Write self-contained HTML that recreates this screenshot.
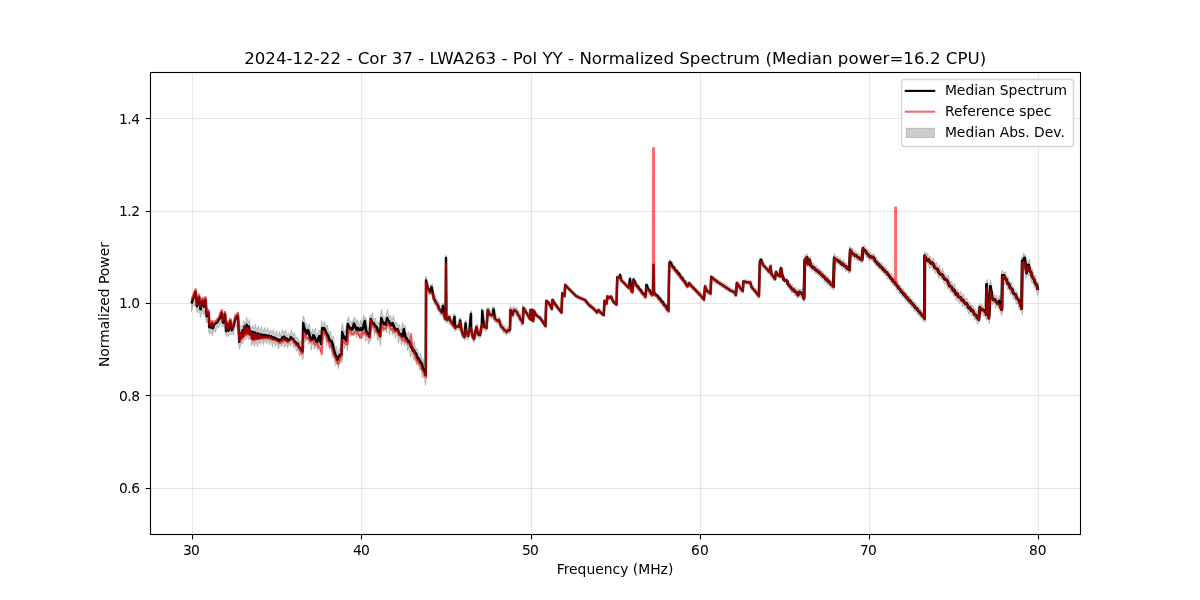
<!DOCTYPE html>
<html><head><meta charset="utf-8"><title>Normalized Spectrum</title>
<style>
html,body{margin:0;padding:0;background:#fff;}
body{width:1200px;height:600px;overflow:hidden;}
svg{display:block;font-family:"DejaVu Sans","Liberation Sans",sans-serif;}
</style></head><body>
<svg width="1200" height="600" viewBox="0 0 1200 600">
<rect width="1200" height="600" fill="#fff"/>
<g stroke="#b0b0b0" stroke-opacity="0.3" stroke-width="1.1"><line x1="192.50" y1="72.5" x2="192.50" y2="534.5"/><line x1="361.50" y1="72.5" x2="361.50" y2="534.5"/><line x1="531.50" y1="72.5" x2="531.50" y2="534.5"/><line x1="700.50" y1="72.5" x2="700.50" y2="534.5"/><line x1="869.50" y1="72.5" x2="869.50" y2="534.5"/><line x1="1038.50" y1="72.5" x2="1038.50" y2="534.5"/><line x1="150.5" y1="488.50" x2="1080.5" y2="488.50"/><line x1="150.5" y1="395.50" x2="1080.5" y2="395.50"/><line x1="150.5" y1="303.50" x2="1080.5" y2="303.50"/><line x1="150.5" y1="211.50" x2="1080.5" y2="211.50"/><line x1="150.5" y1="118.50" x2="1080.5" y2="118.50"/></g>
<path d="M191.5 298.4 L192.5 294.4 L193.5 292.6 L194.5 289.8 L195.5 288.3 L196.5 289.3 L197.5 297.8 L198.5 293.0 L199.5 294.9 L200.5 298.4 L201.5 297.5 L202.5 298.0 L203.5 298.2 L204.5 296.1 L205.5 297.4 L206.5 297.4 L207.5 309.2 L208.5 310.1 L209.5 310.3 L210.5 321.2 L211.5 321.1 L212.5 320.9 L213.5 321.0 L214.5 321.0 L215.5 320.4 L216.5 318.1 L217.5 317.9 L218.5 316.7 L219.5 312.2 L220.5 311.1 L221.5 310.6 L222.5 308.7 L223.5 314.4 L224.5 311.9 L225.5 310.8 L226.5 318.8 L227.5 321.4 L228.5 320.8 L229.5 318.7 L230.5 319.1 L231.5 319.0 L232.5 324.3 L233.5 320.0 L234.5 314.4 L235.5 315.0 L236.5 313.7 L237.5 311.5 L238.5 312.9 L239.5 323.8 L240.5 326.5 L241.5 326.0 L242.5 326.6 L243.5 320.3 L244.5 323.1 L245.5 322.7 L246.5 317.2 L247.5 320.7 L248.5 322.5 L249.5 319.4 L250.5 327.4 L251.5 327.9 L252.5 325.4 L253.5 327.7 L254.5 328.4 L255.5 324.2 L256.5 330.2 L257.5 329.2 L258.5 326.0 L259.5 330.3 L260.5 330.1 L261.5 326.3 L262.5 331.2 L263.5 331.3 L264.5 327.3 L265.5 330.8 L266.5 331.4 L267.5 327.5 L268.5 331.7 L269.5 331.9 L270.5 329.9 L271.5 332.0 L272.5 332.7 L273.5 329.0 L274.5 333.6 L275.5 334.4 L276.5 330.7 L277.5 335.0 L278.5 335.7 L279.5 331.6 L280.5 335.9 L281.5 333.6 L282.5 329.6 L283.5 332.9 L284.5 333.0 L285.5 330.0 L286.5 334.2 L287.5 335.1 L288.5 333.3 L289.5 334.0 L290.5 333.2 L291.5 330.1 L292.5 333.7 L293.5 335.2 L294.5 332.3 L295.5 337.4 L296.5 337.9 L297.5 337.1 L298.5 339.2 L299.5 342.2 L300.5 340.9 L301.5 345.7 L302.5 318.9 L303.5 315.7 L304.5 319.7 L305.5 324.1 L306.5 323.1 L307.5 326.4 L308.5 325.8 L309.5 324.2 L310.5 331.0 L311.5 334.0 L312.5 328.7 L313.5 330.9 L314.5 330.9 L315.5 328.2 L316.5 335.6 L317.5 334.0 L318.5 329.4 L319.5 331.4 L320.5 332.1 L321.5 320.6 L322.5 323.4 L323.5 324.5 L324.5 321.5 L325.5 324.2 L326.5 326.9 L327.5 324.8 L328.5 330.9 L329.5 333.6 L330.5 331.0 L331.5 336.6 L332.5 337.5 L333.5 335.9 L334.5 343.8 L335.5 348.7 L336.5 346.5 L337.5 353.3 L338.5 352.1 L339.5 348.3 L340.5 349.5 L341.5 327.9 L342.5 323.5 L343.5 328.8 L344.5 332.5 L345.5 330.8 L346.5 323.3 L347.5 320.6 L348.5 316.6 L349.5 322.1 L350.5 323.3 L351.5 321.5 L352.5 321.3 L353.5 319.4 L354.5 316.9 L355.5 319.9 L356.5 323.1 L357.5 319.4 L358.5 323.5 L359.5 325.2 L360.5 320.1 L361.5 323.9 L362.5 321.9 L363.5 314.7 L364.5 317.3 L365.5 316.9 L366.5 319.6 L367.5 326.9 L368.5 329.5 L369.5 316.7 L370.5 315.1 L371.5 315.5 L372.5 312.6 L373.5 317.7 L374.5 319.4 L375.5 318.0 L376.5 321.8 L377.5 322.9 L378.5 322.2 L379.5 324.2 L380.5 314.1 L381.5 309.6 L382.5 314.3 L383.5 317.3 L384.5 316.5 L385.5 317.4 L386.5 314.1 L387.5 309.6 L388.5 315.0 L389.5 317.0 L390.5 315.3 L391.5 319.1 L392.5 319.3 L393.5 315.0 L394.5 320.4 L395.5 323.8 L396.5 322.3 L397.5 324.5 L398.5 325.4 L399.5 324.4 L400.5 329.5 L401.5 330.5 L402.5 322.5 L403.5 325.4 L404.5 325.3 L405.5 325.9 L406.5 332.7 L407.5 334.8 L408.5 331.5 L409.5 336.6 L410.5 337.9 L411.5 337.3 L412.5 343.0 L413.5 345.0 L414.5 341.8 L415.5 347.7 L416.5 349.1 L417.5 348.7 L418.5 353.8 L419.5 354.8 L420.5 352.9 L421.5 357.7 L422.5 359.1 L423.5 359.6 L424.5 364.9 L425.5 276.8 L426.5 276.5 L427.5 280.6 L428.5 284.4 L429.5 285.5 L430.5 284.9 L431.5 284.6 L432.5 283.5 L433.5 289.7 L434.5 294.5 L435.5 296.2 L436.5 299.2 L437.5 301.0 L438.5 301.4 L439.5 304.7 L440.5 307.0 L441.5 305.8 L442.5 303.6 L443.5 303.7 L444.5 305.6 L445.5 255.5 L446.5 255.8 L447.5 314.8 L448.5 314.4 L449.5 314.6 L450.5 315.3 L451.5 318.5 L452.5 320.2 L453.5 313.7 L454.5 314.4 L455.5 314.8 L456.5 322.5 L457.5 323.7 L458.5 322.4 L459.5 317.2 L460.5 318.1 L461.5 321.0 L462.5 326.6 L463.5 331.0 L464.5 322.3 L465.5 319.9 L466.5 321.0 L467.5 329.5 L468.5 326.4 L469.5 317.0 L470.5 311.6 L471.5 310.6 L472.5 328.1 L473.5 333.5 L474.5 328.3 L475.5 324.9 L476.5 324.6 L477.5 323.4 L478.5 329.3 L479.5 329.8 L480.5 323.3 L481.5 308.4 L482.5 308.8 L483.5 310.2 L484.5 320.3 L485.5 324.7 L486.5 310.4 L487.5 307.7 L488.5 307.6 L489.5 308.3 L490.5 311.7 L491.5 312.2 L492.5 306.2 L493.5 307.1 L494.5 307.1 L495.5 312.5 L496.5 316.8 L497.5 317.6 L498.5 316.4 L499.5 317.6 L500.5 319.5 L501.5 321.1 L502.5 324.3 L503.5 325.2 L504.5 325.6 L505.5 328.0 L506.5 328.4 L507.5 326.6 L508.5 327.7 L509.5 307.9 L510.5 306.6 L511.5 307.4 L512.5 309.3 L513.5 306.2 L514.5 307.7 L515.5 307.9 L516.5 307.1 L517.5 309.4 L518.5 311.4 L519.5 311.4 L520.5 314.5 L521.5 316.8 L522.5 304.9 L523.5 306.6 L524.5 306.7 L525.5 308.0 L526.5 309.9 L527.5 311.6 L528.5 313.0 L529.5 308.9 L530.5 308.6 L531.5 308.4 L532.5 308.6 L533.5 308.7 L534.5 309.4 L535.5 310.6 L536.5 312.7 L537.5 313.7 L538.5 314.8 L539.5 315.6 L540.5 316.0 L541.5 317.3 L542.5 318.7 L543.5 319.9 L544.5 321.6 L545.5 299.7 L546.5 299.4 L547.5 300.0 L548.5 300.5 L549.5 301.3 L550.5 303.2 L551.5 298.9 L552.5 298.3 L553.5 298.6 L554.5 300.4 L555.5 301.6 L556.5 303.4 L557.5 304.7 L558.5 305.9 L559.5 307.4 L560.5 308.7 L561.5 291.8 L562.5 292.1 L563.5 292.7 L564.5 283.3 L565.5 283.6 L566.5 284.2 L567.5 284.9 L568.5 286.2 L569.5 287.1 L570.5 287.8 L571.5 289.2 L572.5 290.2 L573.5 290.8 L574.5 292.1 L575.5 293.1 L576.5 293.8 L577.5 294.9 L578.5 295.4 L579.5 295.5 L580.5 296.3 L581.5 296.8 L582.5 297.0 L583.5 297.6 L584.5 298.1 L585.5 298.2 L586.5 299.4 L587.5 300.7 L588.5 301.5 L589.5 303.1 L590.5 304.1 L591.5 304.5 L592.5 305.7 L593.5 306.4 L594.5 306.9 L595.5 308.4 L596.5 309.4 L597.5 308.6 L598.5 308.7 L599.5 308.7 L600.5 309.5 L601.5 311.2 L602.5 312.1 L603.5 299.6 L604.5 299.6 L605.5 299.7 L606.5 295.0 L607.5 295.2 L608.5 295.2 L609.5 295.6 L610.5 295.1 L611.5 295.1 L612.5 296.0 L613.5 298.7 L614.5 300.7 L615.5 301.2 L616.5 276.1 L617.5 275.9 L618.5 275.3 L619.5 273.6 L620.5 273.6 L621.5 275.4 L622.5 279.1 L623.5 280.1 L624.5 280.8 L625.5 282.2 L626.5 283.2 L627.5 283.8 L628.5 282.2 L629.5 277.6 L630.5 277.3 L631.5 281.7 L632.5 278.4 L633.5 277.9 L634.5 278.2 L635.5 280.1 L636.5 281.8 L637.5 284.0 L638.5 285.0 L639.5 286.0 L640.5 287.8 L641.5 288.7 L642.5 290.1 L643.5 291.7 L644.5 292.4 L645.5 283.6 L646.5 283.7 L647.5 283.7 L648.5 285.7 L649.5 288.0 L650.5 289.1 L651.5 290.5 L652.5 263.9 L653.5 263.7 L654.5 263.4 L655.5 292.0 L656.5 293.1 L657.5 293.8 L658.5 294.6 L659.5 296.3 L660.5 296.3 L661.5 297.9 L662.5 299.6 L663.5 300.0 L664.5 301.8 L665.5 303.5 L666.5 303.6 L667.5 305.9 L668.5 261.9 L669.5 259.7 L670.5 260.3 L671.5 261.1 L672.5 261.9 L673.5 264.8 L674.5 265.7 L675.5 266.5 L676.5 268.4 L677.5 269.2 L678.5 270.5 L679.5 271.9 L680.5 272.8 L681.5 274.2 L682.5 275.8 L683.5 277.2 L684.5 277.9 L685.5 279.9 L686.5 281.4 L687.5 282.3 L688.5 281.4 L689.5 281.5 L690.5 281.8 L691.5 283.2 L692.5 284.3 L693.5 284.9 L694.5 286.4 L695.5 287.5 L696.5 288.0 L697.5 289.5 L698.5 290.5 L699.5 290.9 L700.5 292.5 L701.5 294.0 L702.5 294.2 L703.5 291.6 L704.5 284.8 L705.5 284.3 L706.5 286.0 L707.5 288.4 L708.5 289.0 L709.5 290.4 L710.5 275.3 L711.5 274.9 L712.5 275.7 L713.5 276.5 L714.5 276.7 L715.5 277.9 L716.5 278.7 L717.5 278.8 L718.5 280.3 L719.5 281.0 L720.5 281.1 L721.5 282.2 L722.5 282.9 L723.5 283.0 L724.5 284.1 L725.5 284.9 L726.5 284.7 L727.5 286.1 L728.5 286.8 L729.5 286.8 L730.5 288.1 L731.5 288.9 L732.5 288.7 L733.5 289.6 L734.5 290.0 L735.5 285.4 L736.5 281.4 L737.5 281.4 L738.5 281.8 L739.5 283.9 L740.5 285.1 L741.5 285.9 L742.5 280.0 L743.5 279.9 L744.5 279.3 L745.5 280.1 L746.5 280.3 L747.5 279.7 L748.5 280.6 L749.5 280.7 L750.5 280.2 L751.5 281.2 L752.5 285.3 L753.5 286.0 L754.5 287.9 L755.5 288.8 L756.5 289.4 L757.5 291.2 L758.5 272.8 L759.5 258.5 L760.5 258.1 L761.5 258.1 L762.5 258.7 L763.5 261.9 L764.5 263.8 L765.5 264.1 L766.5 265.8 L767.5 266.9 L768.5 267.7 L769.5 265.0 L770.5 264.8 L771.5 264.0 L772.5 272.3 L773.5 273.8 L774.5 273.3 L775.5 270.2 L776.5 270.3 L777.5 270.4 L778.5 272.5 L779.5 270.8 L780.5 266.3 L781.5 266.8 L782.5 270.1 L783.5 273.9 L784.5 277.1 L785.5 278.4 L786.5 278.3 L787.5 279.1 L788.5 280.8 L789.5 282.4 L790.5 283.5 L791.5 284.8 L792.5 284.4 L793.5 287.2 L794.5 287.4 L795.5 286.9 L796.5 289.5 L797.5 290.0 L798.5 288.6 L799.5 289.6 L800.5 289.6 L801.5 288.8 L802.5 290.3 L803.5 272.0 L804.5 255.4 L805.5 255.6 L806.5 255.0 L807.5 253.6 L808.5 257.9 L809.5 257.4 L810.5 256.3 L811.5 261.5 L812.5 263.7 L813.5 263.0 L814.5 265.3 L815.5 266.2 L816.5 265.4 L817.5 267.6 L818.5 268.4 L819.5 267.9 L820.5 270.0 L821.5 271.2 L822.5 270.9 L823.5 272.8 L824.5 274.2 L825.5 273.9 L826.5 276.3 L827.5 276.9 L828.5 276.5 L829.5 279.1 L830.5 279.9 L831.5 280.1 L832.5 282.4 L833.5 255.7 L834.5 253.8 L835.5 256.2 L836.5 256.9 L837.5 255.7 L838.5 257.4 L839.5 258.5 L840.5 258.4 L841.5 259.9 L842.5 261.4 L843.5 259.8 L844.5 262.1 L845.5 263.2 L846.5 262.4 L847.5 265.1 L848.5 266.1 L849.5 246.5 L850.5 247.4 L851.5 247.9 L852.5 248.1 L853.5 251.0 L854.5 251.7 L855.5 250.9 L856.5 252.8 L857.5 253.6 L858.5 252.9 L859.5 254.7 L860.5 255.8 L861.5 250.4 L862.5 245.7 L863.5 246.0 L864.5 245.2 L865.5 247.5 L866.5 248.9 L867.5 249.1 L868.5 251.5 L869.5 252.9 L870.5 252.2 L871.5 254.0 L872.5 254.5 L873.5 253.4 L874.5 255.3 L875.5 257.0 L876.5 257.5 L877.5 259.7 L878.5 261.2 L879.5 260.9 L880.5 262.6 L881.5 264.0 L882.5 263.1 L883.5 265.8 L884.5 267.2 L885.5 266.9 L886.5 269.1 L887.5 269.9 L888.5 270.5 L889.5 272.5 L890.5 273.9 L891.5 273.5 L892.5 276.1 L893.5 277.7 L894.5 277.6 L895.5 280.0 L896.5 281.5 L897.5 281.0 L898.5 283.5 L899.5 285.2 L900.5 285.3 L901.5 287.9 L902.5 289.3 L903.5 288.5 L904.5 291.5 L905.5 292.5 L906.5 292.4 L907.5 294.7 L908.5 295.9 L909.5 295.9 L910.5 298.3 L911.5 299.3 L912.5 299.2 L913.5 301.3 L914.5 302.8 L915.5 302.6 L916.5 305.3 L917.5 306.0 L918.5 305.8 L919.5 308.3 L920.5 309.6 L921.5 309.4 L922.5 311.9 L923.5 313.2 L924.5 251.7 L925.5 252.3 L926.5 254.8 L927.5 252.9 L928.5 256.1 L929.5 256.8 L930.5 256.6 L931.5 259.5 L932.5 259.3 L933.5 257.6 L934.5 261.3 L935.5 264.4 L936.5 262.0 L937.5 265.6 L938.5 266.5 L939.5 265.1 L940.5 270.2 L941.5 271.2 L942.5 268.3 L943.5 271.5 L944.5 274.0 L945.5 273.9 L946.5 276.0 L947.5 277.0 L948.5 275.1 L949.5 280.2 L950.5 283.0 L951.5 281.0 L952.5 283.8 L953.5 286.1 L954.5 283.6 L955.5 288.0 L956.5 289.8 L957.5 288.8 L958.5 291.6 L959.5 293.6 L960.5 291.0 L961.5 293.9 L962.5 297.0 L963.5 293.4 L964.5 297.9 L965.5 299.5 L966.5 297.2 L967.5 299.9 L968.5 302.2 L969.5 302.2 L970.5 304.1 L971.5 305.8 L972.5 304.9 L973.5 307.5 L974.5 308.9 L975.5 308.4 L976.5 311.9 L977.5 313.1 L978.5 305.4 L979.5 303.9 L980.5 304.5 L981.5 303.4 L982.5 306.7 L983.5 306.9 L984.5 305.0 L985.5 289.4 L986.5 281.2 L987.5 279.2 L988.5 300.4 L989.5 283.7 L990.5 280.2 L991.5 284.2 L992.5 290.9 L993.5 292.6 L994.5 296.0 L995.5 296.1 L996.5 295.1 L997.5 298.9 L998.5 298.2 L999.5 295.5 L1000.5 299.4 L1001.5 272.5 L1002.5 270.0 L1003.5 272.5 L1004.5 272.6 L1005.5 271.5 L1006.5 275.0 L1007.5 277.0 L1008.5 277.4 L1009.5 281.1 L1010.5 283.0 L1011.5 282.0 L1012.5 285.7 L1013.5 287.7 L1014.5 288.6 L1015.5 290.9 L1016.5 291.4 L1017.5 292.3 L1018.5 295.5 L1019.5 297.3 L1020.5 296.3 L1021.5 257.3 L1022.5 256.9 L1023.5 252.7 L1024.5 254.9 L1025.5 255.0 L1026.5 258.5 L1027.5 262.3 L1028.5 262.1 L1029.5 259.1 L1030.5 265.7 L1031.5 268.6 L1032.5 268.8 L1033.5 274.1 L1034.5 275.6 L1035.5 275.4 L1036.5 280.5 L1037.5 281.8 L1038.5 282.8 L1038.5 293.1 L1037.5 295.4 L1036.5 290.6 L1035.5 288.1 L1034.5 288.1 L1033.5 283.9 L1032.5 281.9 L1031.5 283.1 L1030.5 277.1 L1029.5 274.3 L1028.5 275.6 L1027.5 275.9 L1026.5 276.4 L1025.5 279.1 L1024.5 267.5 L1023.5 263.4 L1022.5 314.7 L1021.5 311.6 L1020.5 310.8 L1019.5 309.7 L1018.5 304.9 L1017.5 302.8 L1016.5 304.6 L1015.5 300.4 L1014.5 298.1 L1013.5 300.0 L1012.5 296.3 L1011.5 293.9 L1010.5 293.9 L1009.5 290.9 L1008.5 288.9 L1007.5 289.3 L1006.5 285.8 L1005.5 283.2 L1004.5 284.9 L1003.5 279.7 L1002.5 312.5 L1001.5 315.8 L1000.5 312.4 L999.5 309.8 L998.5 308.7 L997.5 306.7 L996.5 306.3 L995.5 308.3 L994.5 303.3 L993.5 302.8 L992.5 304.8 L991.5 301.5 L990.5 308.4 L989.5 323.8 L988.5 321.1 L987.5 317.6 L986.5 320.3 L985.5 317.5 L984.5 315.9 L983.5 316.3 L982.5 313.3 L981.5 313.1 L980.5 316.5 L979.5 322.4 L978.5 322.6 L977.5 324.3 L976.5 320.9 L975.5 319.2 L974.5 320.4 L973.5 317.0 L972.5 315.6 L971.5 316.0 L970.5 313.8 L969.5 312.1 L968.5 314.1 L967.5 310.6 L966.5 308.4 L965.5 308.9 L964.5 306.9 L963.5 305.0 L962.5 307.0 L961.5 303.1 L960.5 302.4 L959.5 303.4 L958.5 300.0 L957.5 300.6 L956.5 300.4 L955.5 297.7 L954.5 295.7 L953.5 296.0 L952.5 293.6 L951.5 291.9 L950.5 292.8 L949.5 289.5 L948.5 288.9 L947.5 288.5 L946.5 284.1 L945.5 283.2 L944.5 284.6 L943.5 281.9 L942.5 279.8 L941.5 280.0 L940.5 277.8 L939.5 277.1 L938.5 278.6 L937.5 274.3 L936.5 272.3 L935.5 273.6 L934.5 270.9 L933.5 269.9 L932.5 269.6 L931.5 266.7 L930.5 267.0 L929.5 268.7 L928.5 264.3 L927.5 263.6 L926.5 265.9 L925.5 321.8 L924.5 320.9 L923.5 322.1 L922.5 319.1 L921.5 318.0 L920.5 318.2 L919.5 315.8 L918.5 314.4 L917.5 314.5 L916.5 312.1 L915.5 310.5 L914.5 311.8 L913.5 308.4 L912.5 307.8 L911.5 307.7 L910.5 305.3 L909.5 303.9 L908.5 304.0 L907.5 302.0 L906.5 300.8 L905.5 301.2 L904.5 298.2 L903.5 297.3 L902.5 297.6 L901.5 294.9 L900.5 294.1 L899.5 293.9 L898.5 291.1 L897.5 290.2 L896.5 290.0 L895.5 287.3 L894.5 286.4 L893.5 286.1 L892.5 283.8 L891.5 282.3 L890.5 282.2 L889.5 280.1 L888.5 278.6 L887.5 279.0 L886.5 276.3 L885.5 274.8 L884.5 275.5 L883.5 273.0 L882.5 272.0 L881.5 272.2 L880.5 269.6 L879.5 269.1 L878.5 269.1 L877.5 266.8 L876.5 265.9 L875.5 265.8 L874.5 263.5 L873.5 261.6 L872.5 261.3 L871.5 259.9 L870.5 259.6 L869.5 261.0 L868.5 258.6 L867.5 257.3 L866.5 258.0 L865.5 255.0 L864.5 253.3 L863.5 257.9 L862.5 262.4 L861.5 262.7 L860.5 262.9 L859.5 261.2 L858.5 260.4 L857.5 261.3 L856.5 259.1 L855.5 258.2 L854.5 259.8 L853.5 257.0 L852.5 256.9 L851.5 256.8 L850.5 272.5 L849.5 272.8 L848.5 273.5 L847.5 270.9 L846.5 270.9 L845.5 271.2 L844.5 268.6 L843.5 268.4 L842.5 268.7 L841.5 266.6 L840.5 265.9 L839.5 265.9 L838.5 264.4 L837.5 263.1 L836.5 263.7 L835.5 262.1 L834.5 289.1 L833.5 290.2 L832.5 288.7 L831.5 287.7 L830.5 288.6 L829.5 285.9 L828.5 284.7 L827.5 285.1 L826.5 282.9 L825.5 282.2 L824.5 282.6 L823.5 279.6 L822.5 278.8 L821.5 278.7 L820.5 277.0 L819.5 276.0 L818.5 276.1 L817.5 274.4 L816.5 273.3 L815.5 274.1 L814.5 271.8 L813.5 270.6 L812.5 271.5 L811.5 269.6 L810.5 268.8 L809.5 267.7 L808.5 266.4 L807.5 266.5 L806.5 263.9 L805.5 276.6 L804.5 301.2 L803.5 302.0 L802.5 299.6 L801.5 297.3 L800.5 297.2 L799.5 296.5 L798.5 297.6 L797.5 298.9 L796.5 296.3 L795.5 295.0 L794.5 295.8 L793.5 293.0 L792.5 292.8 L791.5 293.2 L790.5 290.7 L789.5 288.7 L788.5 287.9 L787.5 286.2 L786.5 283.9 L785.5 283.2 L784.5 282.1 L783.5 281.8 L782.5 280.8 L781.5 277.7 L780.5 277.8 L779.5 278.2 L778.5 277.3 L777.5 276.8 L776.5 277.7 L775.5 280.7 L774.5 280.8 L773.5 280.4 L772.5 278.5 L771.5 277.0 L770.5 276.0 L769.5 273.6 L768.5 273.5 L767.5 273.2 L766.5 271.2 L765.5 269.9 L764.5 269.6 L763.5 267.9 L762.5 267.1 L761.5 265.9 L760.5 275.9 L759.5 297.7 L758.5 298.4 L757.5 297.0 L756.5 295.7 L755.5 294.9 L754.5 293.1 L753.5 291.9 L752.5 291.7 L751.5 289.7 L750.5 288.5 L749.5 285.0 L748.5 284.2 L747.5 284.1 L746.5 284.7 L745.5 283.7 L744.5 283.7 L743.5 293.4 L742.5 292.7 L741.5 292.2 L740.5 291.9 L739.5 289.6 L738.5 288.1 L737.5 289.8 L736.5 296.7 L735.5 296.7 L734.5 296.4 L733.5 294.0 L732.5 293.2 L731.5 293.6 L730.5 292.5 L729.5 291.9 L728.5 292.1 L727.5 290.6 L726.5 290.0 L725.5 289.8 L724.5 288.6 L723.5 288.0 L722.5 287.8 L721.5 286.7 L720.5 286.0 L719.5 286.1 L718.5 284.8 L717.5 284.2 L716.5 284.0 L715.5 282.6 L714.5 281.9 L713.5 281.8 L712.5 280.4 L711.5 295.2 L710.5 295.7 L709.5 295.1 L708.5 294.3 L707.5 294.4 L706.5 292.8 L705.5 294.8 L704.5 301.7 L703.5 301.2 L702.5 300.4 L701.5 299.8 L700.5 298.0 L699.5 297.1 L698.5 296.2 L697.5 294.7 L696.5 293.8 L695.5 293.3 L694.5 291.6 L693.5 290.5 L692.5 290.2 L691.5 288.4 L690.5 287.5 L689.5 287.2 L688.5 287.8 L687.5 287.8 L686.5 288.3 L685.5 286.6 L684.5 284.4 L683.5 283.4 L682.5 281.8 L681.5 280.4 L680.5 279.9 L679.5 278.0 L678.5 275.9 L677.5 276.2 L676.5 274.1 L675.5 272.4 L674.5 272.3 L673.5 270.0 L672.5 269.0 L671.5 268.5 L670.5 265.8 L669.5 312.2 L668.5 312.8 L667.5 311.9 L666.5 311.2 L665.5 309.6 L664.5 307.4 L663.5 306.6 L662.5 305.7 L661.5 303.8 L660.5 302.8 L659.5 301.0 L658.5 300.1 L657.5 298.7 L656.5 297.3 L655.5 296.8 L654.5 295.6 L653.5 296.0 L652.5 295.8 L651.5 295.8 L650.5 295.3 L649.5 293.3 L648.5 291.6 L647.5 290.8 L646.5 297.9 L645.5 297.9 L644.5 298.0 L643.5 295.9 L642.5 295.0 L641.5 294.6 L640.5 292.8 L639.5 291.1 L638.5 290.6 L637.5 288.8 L636.5 287.7 L635.5 286.7 L634.5 284.6 L633.5 292.9 L632.5 293.1 L631.5 292.7 L630.5 292.2 L629.5 289.1 L628.5 288.8 L627.5 288.8 L626.5 288.2 L625.5 286.6 L624.5 285.6 L623.5 285.0 L622.5 283.6 L621.5 282.6 L620.5 282.0 L619.5 278.5 L618.5 278.8 L617.5 306.3 L616.5 305.9 L615.5 305.7 L614.5 305.1 L613.5 304.0 L612.5 303.1 L611.5 301.3 L610.5 299.3 L609.5 299.3 L608.5 299.4 L607.5 304.9 L606.5 304.9 L605.5 304.8 L604.5 316.3 L603.5 316.4 L602.5 316.3 L601.5 315.2 L600.5 314.5 L599.5 314.0 L598.5 312.8 L597.5 313.8 L596.5 314.3 L595.5 313.1 L594.5 311.8 L593.5 311.1 L592.5 309.7 L591.5 309.0 L590.5 308.5 L589.5 307.4 L588.5 306.6 L587.5 305.8 L586.5 304.4 L585.5 303.1 L584.5 302.2 L583.5 301.1 L582.5 300.7 L581.5 300.5 L580.5 299.8 L579.5 299.4 L578.5 299.2 L577.5 298.4 L576.5 298.0 L575.5 297.7 L574.5 296.6 L573.5 295.6 L572.5 294.8 L571.5 293.6 L570.5 292.6 L569.5 291.9 L568.5 290.6 L567.5 289.7 L566.5 288.9 L565.5 297.3 L564.5 297.3 L563.5 297.5 L562.5 313.8 L561.5 313.9 L560.5 314.0 L559.5 312.4 L558.5 311.1 L557.5 310.2 L556.5 308.6 L555.5 307.1 L554.5 306.2 L553.5 304.3 L552.5 310.3 L551.5 310.8 L550.5 309.3 L549.5 307.4 L548.5 306.0 L547.5 304.1 L546.5 327.4 L545.5 327.7 L544.5 327.1 L543.5 325.6 L542.5 324.5 L541.5 322.6 L540.5 321.1 L539.5 320.3 L538.5 318.7 L537.5 318.1 L536.5 317.5 L535.5 316.5 L534.5 318.6 L533.5 322.7 L532.5 322.4 L531.5 321.3 L530.5 321.5 L529.5 320.3 L528.5 319.3 L527.5 318.0 L526.5 315.8 L525.5 314.1 L524.5 312.6 L523.5 324.3 L522.5 325.4 L521.5 326.0 L520.5 322.6 L519.5 321.4 L518.5 320.1 L517.5 317.3 L516.5 315.8 L515.5 315.0 L514.5 313.8 L513.5 317.5 L512.5 318.3 L511.5 317.1 L510.5 332.8 L509.5 333.7 L508.5 332.9 L507.5 334.6 L506.5 335.5 L505.5 334.2 L504.5 333.3 L503.5 333.4 L502.5 331.0 L501.5 329.8 L500.5 330.0 L499.5 327.0 L498.5 323.8 L497.5 324.2 L496.5 323.1 L495.5 321.8 L494.5 322.4 L493.5 318.0 L492.5 317.6 L491.5 319.0 L490.5 317.3 L489.5 317.4 L488.5 317.8 L487.5 330.2 L486.5 330.5 L485.5 331.8 L484.5 329.5 L483.5 329.3 L482.5 330.4 L481.5 334.2 L480.5 337.5 L479.5 338.6 L478.5 337.2 L477.5 336.8 L476.5 334.8 L475.5 338.8 L474.5 341.5 L473.5 342.6 L472.5 340.0 L471.5 338.3 L470.5 334.2 L469.5 336.3 L468.5 338.4 L467.5 339.8 L466.5 336.7 L465.5 339.5 L464.5 340.5 L463.5 339.0 L462.5 338.0 L461.5 337.0 L460.5 332.1 L459.5 329.3 L458.5 330.5 L457.5 328.8 L456.5 329.9 L455.5 331.5 L454.5 330.4 L453.5 327.4 L452.5 328.2 L451.5 326.2 L450.5 324.9 L449.5 324.6 L448.5 322.3 L447.5 322.3 L446.5 323.3 L445.5 321.3 L444.5 321.1 L443.5 319.1 L442.5 315.4 L441.5 315.3 L440.5 315.4 L439.5 312.6 L438.5 311.6 L437.5 310.5 L436.5 306.9 L435.5 305.4 L434.5 304.8 L433.5 301.8 L432.5 299.0 L431.5 295.3 L430.5 294.4 L429.5 294.3 L428.5 294.6 L427.5 291.4 L426.5 377.2 L425.5 385.4 L424.5 378.0 L423.5 376.7 L422.5 378.2 L421.5 370.7 L420.5 367.9 L419.5 370.4 L418.5 364.8 L417.5 363.0 L416.5 365.3 L415.5 359.8 L414.5 357.6 L413.5 360.6 L412.5 355.1 L411.5 353.8 L410.5 357.1 L409.5 349.4 L408.5 346.9 L407.5 350.9 L406.5 344.1 L405.5 342.5 L404.5 346.2 L403.5 340.5 L402.5 341.2 L401.5 345.8 L400.5 339.3 L399.5 338.8 L398.5 343.5 L397.5 335.9 L396.5 334.6 L395.5 338.5 L394.5 333.5 L393.5 332.1 L392.5 335.3 L391.5 328.7 L390.5 329.4 L389.5 335.2 L388.5 327.3 L387.5 326.5 L386.5 332.9 L385.5 328.6 L384.5 328.5 L383.5 331.9 L382.5 327.3 L381.5 333.5 L380.5 346.1 L379.5 339.6 L378.5 338.3 L377.5 340.5 L376.5 333.7 L375.5 331.7 L374.5 336.0 L373.5 329.1 L372.5 328.7 L371.5 330.8 L370.5 341.1 L369.5 341.9 L368.5 344.4 L367.5 338.1 L366.5 338.8 L365.5 341.8 L364.5 330.9 L363.5 334.1 L362.5 338.3 L361.5 333.7 L360.5 334.8 L359.5 338.4 L358.5 333.9 L357.5 333.8 L356.5 337.8 L355.5 333.4 L354.5 332.3 L353.5 336.2 L352.5 333.6 L351.5 333.5 L350.5 337.2 L349.5 332.7 L348.5 332.4 L347.5 351.0 L346.5 345.1 L345.5 344.3 L344.5 348.7 L343.5 341.6 L342.5 359.4 L341.5 363.0 L340.5 359.8 L339.5 361.6 L338.5 368.7 L337.5 363.7 L336.5 363.1 L335.5 365.7 L334.5 359.8 L333.5 357.5 L332.5 357.4 L331.5 348.0 L330.5 345.2 L329.5 349.0 L328.5 343.7 L327.5 341.6 L326.5 345.5 L325.5 337.5 L324.5 335.2 L323.5 339.7 L322.5 341.7 L321.5 348.8 L320.5 352.2 L319.5 344.8 L318.5 346.5 L317.5 350.5 L316.5 345.8 L315.5 345.8 L314.5 349.3 L313.5 342.2 L312.5 343.8 L311.5 350.0 L310.5 344.0 L309.5 342.7 L308.5 344.4 L307.5 337.9 L306.5 337.5 L305.5 342.1 L304.5 335.3 L303.5 356.4 L302.5 359.8 L301.5 355.4 L300.5 354.0 L299.5 356.3 L298.5 351.4 L297.5 350.3 L296.5 351.4 L295.5 348.4 L294.5 345.8 L293.5 347.9 L292.5 342.9 L291.5 342.5 L290.5 346.3 L289.5 343.3 L288.5 345.2 L287.5 347.9 L286.5 344.3 L285.5 344.8 L284.5 347.6 L283.5 342.6 L282.5 344.3 L281.5 347.0 L280.5 344.7 L279.5 345.0 L278.5 349.4 L277.5 343.7 L276.5 343.8 L275.5 346.8 L274.5 342.9 L273.5 342.7 L272.5 347.1 L271.5 342.3 L270.5 341.6 L269.5 345.1 L268.5 340.9 L267.5 341.8 L266.5 343.9 L265.5 340.9 L264.5 340.7 L263.5 344.8 L262.5 341.3 L261.5 341.3 L260.5 344.6 L259.5 342.2 L258.5 342.5 L257.5 346.8 L256.5 342.8 L255.5 342.8 L254.5 346.5 L253.5 343.0 L252.5 343.3 L251.5 345.4 L250.5 338.1 L249.5 339.0 L248.5 339.6 L247.5 336.8 L246.5 337.7 L245.5 339.7 L244.5 339.0 L243.5 340.7 L242.5 344.2 L241.5 342.4 L240.5 345.1 L239.5 349.1 L238.5 345.6 L237.5 330.2 L236.5 326.1 L235.5 325.8 L234.5 329.7 L233.5 335.1 L232.5 333.6 L231.5 334.7 L230.5 334.8 L229.5 334.6 L228.5 335.0 L227.5 337.2 L226.5 334.8 L225.5 334.9 L224.5 328.7 L223.5 326.1 L222.5 326.3 L221.5 325.4 L220.5 322.5 L219.5 324.8 L218.5 328.1 L217.5 326.3 L216.5 327.9 L215.5 332.4 L214.5 330.3 L213.5 331.9 L212.5 336.0 L211.5 331.5 L210.5 332.0 L209.5 334.5 L208.5 331.1 L207.5 320.5 L206.5 323.0 L205.5 318.4 L204.5 310.6 L203.5 315.0 L202.5 308.9 L201.5 313.5 L200.5 317.5 L199.5 312.6 L198.5 307.5 L197.5 313.1 L196.5 310.3 L195.5 304.7 L194.5 306.1 L193.5 304.5 L192.5 308.1 L191.5 311.8Z" fill="#808080" fill-opacity="0.4" stroke="#808080" stroke-opacity="0.4" stroke-width="1"/>
<path d="M191.5 303.5 L195.6 291.7 L197.0 306.2 L199.1 297.2 L200.5 309.2 L202.6 300.5 L203.9 306.7 L205.5 299.6 L206.6 316.2 L208.5 312.5 L209.4 327.2 L210.6 324.7 L211.3 327.7 L212.0 323.2 L212.9 328.2 L214.3 324.4 L217.2 322.2 L219.5 318.7 L221.6 312.7 L223.0 322.6 L225.0 314.2 L226.2 331.2 L227.3 323.7 L228.6 330.8 L230.3 321.2 L231.8 330.2 L233.5 326.2 L235.6 318.2 L237.9 315.5 L239.4 341.9 L240.2 333.0 L241.3 338.3 L242.5 330.1 L243.4 336.4 L244.6 326.5 L245.6 333.3 L246.7 324.6 L247.8 332.9 L248.7 326.4 L250.0 334.3 L251.2 331.3 L252.1 338.7 L253.2 332.0 L254.1 338.9 L255.2 332.6 L256.5 338.7 L257.8 333.3 L259.0 338.1 L260.3 334.2 L261.2 337.7 L262.2 334.7 L263.3 337.4 L264.3 334.9 L265.3 337.3 L266.5 335.2 L267.8 337.4 L269.0 335.5 L270.4 338.0 L271.3 336.3 L272.6 338.7 L273.7 337.3 L274.7 339.3 L275.8 338.2 L276.8 339.9 L278.1 339.5 L279.3 341.2 L280.2 339.6 L281.5 340.5 L282.4 337.1 L283.3 339.1 L284.3 336.5 L285.6 340.1 L286.9 338.6 L287.8 341.2 L288.7 339.6 L289.8 339.9 L290.7 337.0 L292.0 338.7 L293.3 338.9 L294.3 341.6 L295.5 341.6 L296.6 344.6 L297.8 343.6 L298.9 347.2 L300.1 348.0 L301.1 349.9 L302.2 351.5 L302.6 351.0 L303.2 323.0 L304.1 326.9 L305.0 329.0 L306.5 333.0 L308.0 330.0 L309.0 332.6 L310.0 337.0 L311.0 338.9 L312.0 339.0 L313.5 335.0 L314.5 336.6 L315.5 339.0 L316.5 340.8 L317.5 341.0 L318.5 337.6 L319.5 336.0 L321.0 343.0 L322.2 328.0 L323.1 328.8 L324.1 328.1 L325.0 329.0 L326.0 332.1 L327.0 334.0 L328.0 335.3 L329.0 338.7 L330.0 340.0 L331.5 341.0 L332.5 343.8 L333.5 348.0 L334.8 352.9 L336.0 356.0 L337.5 359.0 L339.0 356.0 L340.2 354.6 L341.5 354.0 L342.2 332.0 L343.1 335.0 L344.0 337.0 L345.2 338.0 L346.5 340.0 L347.8 324.0 L348.9 326.5 L350.0 328.0 L351.0 328.0 L352.0 329.0 L352.9 327.2 L353.8 323.5 L354.9 324.9 L356.0 328.0 L357.0 328.7 L358.0 327.8 L359.0 329.3 L360.0 329.0 L361.0 328.1 L362.0 329.0 L363.0 328.0 L363.9 323.7 L364.8 321.0 L366.0 330.0 L367.2 332.7 L368.3 333.4 L369.5 336.0 L370.8 319.0 L371.9 321.5 L373.0 323.0 L374.0 323.4 L375.0 325.5 L376.0 326.0 L377.0 327.5 L378.0 331.3 L379.0 332.1 L380.0 335.0 L381.2 318.0 L382.4 321.0 L383.5 323.0 L384.8 323.0 L386.0 324.0 L387.2 318.0 L388.1 320.6 L389.1 321.2 L390.0 324.0 L391.2 324.4 L392.5 323.0 L393.5 324.9 L394.5 328.0 L395.8 329.4 L397.0 329.0 L398.0 329.9 L399.0 333.0 L400.0 334.0 L401.2 334.4 L402.5 336.0 L403.8 329.0 L404.9 334.2 L406.0 338.0 L407.0 338.4 L408.0 341.2 L409.0 340.9 L410.0 343.0 L411.0 346.0 L412.0 347.1 L413.0 350.0 L414.0 350.0 L415.0 352.7 L416.0 353.2 L417.0 356.5 L418.0 358.0 L419.0 358.7 L420.0 361.3 L421.0 362.0 L422.0 363.8 L423.0 368.3 L424.0 370.0 L424.9 371.9 L425.8 375.0 L426.0 280.5 L427.0 284.8 L428.0 288.5 L429.0 289.9 L430.0 292.0 L431.5 287.0 L432.8 293.5 L434.0 299.0 L435.0 300.4 L436.0 302.6 L437.0 304.0 L438.0 305.6 L439.0 308.5 L440.0 310.0 L441.0 311.1 L442.0 313.0 L443.0 306.0 L444.0 313.0 L445.0 318.0 L445.7 319.0 L446.0 258.0 L446.3 319.0 L447.5 320.0 L449.0 317.0 L450.0 319.8 L451.0 322.0 L452.0 323.1 L453.0 325.0 L454.5 317.0 L455.0 328.0 L456.0 327.3 L457.0 326.0 L458.0 326.2 L459.0 327.0 L460.0 322.0 L460.1 320.5 L461.5 330.0 L463.0 335.0 L464.5 337.0 L465.6 323.5 L466.0 330.0 L467.0 333.3 L468.0 336.0 L469.5 330.0 L471.0 314.0 L471.0 328.0 L472.5 336.0 L474.0 339.0 L475.2 332.6 L476.5 327.0 L478.0 334.0 L479.0 334.8 L480.0 335.0 L481.0 329.2 L482.0 324.0 L482.2 311.0 L483.1 319.4 L484.0 327.0 L485.2 327.0 L486.5 328.0 L487.8 310.0 L488.9 312.8 L490.0 315.0 L491.0 314.6 L492.0 315.3 L493.0 315.0 L493.5 309.5 L495.0 319.0 L496.2 319.6 L497.5 321.0 L499.0 320.0 L500.5 325.0 L501.5 326.7 L502.5 327.4 L503.5 329.0 L504.5 330.3 L505.5 330.8 L506.5 332.0 L508.0 330.0 L509.0 330.3 L510.0 330.0 L510.5 310.0 L511.5 312.2 L512.5 315.0 L514.0 310.0 L515.0 310.8 L516.0 311.0 L517.0 312.4 L518.0 314.8 L519.0 315.8 L520.0 318.0 L520.9 319.9 L521.9 320.8 L522.8 323.0 L523.5 308.0 L526.0 312.0 L530.0 319.0 L530.5 310.0 L531.5 320.0 L532.5 310.0 L533.2 321.0 L534.0 311.0 L536.0 315.0 L540.0 318.0 L543.0 322.0 L545.5 326.0 L546.2 301.0 L548.0 302.0 L551.0 307.0 L551.8 309.0 L552.5 300.0 L555.0 304.0 L558.0 308.0 L561.5 312.5 L562.2 293.5 L564.5 296.0 L565.2 285.0 L568.0 288.0 L572.0 292.0 L576.0 296.0 L580.0 298.0 L585.0 300.0 L589.0 305.0 L594.0 309.0 L597.0 312.5 L598.5 310.0 L601.0 313.0 L603.8 315.0 L604.5 301.0 L606.5 303.5 L607.5 296.5 L609.5 298.0 L611.0 296.5 L613.5 302.0 L616.5 304.5 L617.2 277.5 L619.5 277.0 L620.2 275.0 L621.0 280.0 L624.0 283.0 L627.0 286.0 L628.0 287.4 L629.0 287.5 L630.0 279.0 L631.5 291.0 L632.5 291.5 L633.5 279.5 L634.8 281.7 L636.0 284.5 L637.0 286.2 L638.0 286.5 L639.0 288.8 L640.0 289.5 L641.0 290.4 L642.0 292.8 L643.0 293.5 L644.2 294.2 L645.5 296.5 L646.5 285.0 L647.8 288.0 L649.0 290.0 L650.0 290.9 L651.0 293.4 L652.0 294.5 L653.1 294.3 L653.5 265.0 L653.9 293.0 L654.9 293.4 L656.0 295.3 L657.0 295.5 L658.0 296.4 L659.0 298.7 L660.0 298.5 L661.0 300.5 L662.0 302.1 L663.0 302.3 L664.0 304.7 L665.0 305.5 L666.2 306.5 L667.3 309.5 L668.5 310.5 L669.2 264.0 L670.0 262.0 L671.0 263.3 L672.0 265.5 L673.0 267.4 L674.0 267.4 L675.0 269.9 L676.0 270.5 L677.0 271.3 L678.0 273.7 L679.0 273.5 L680.0 275.5 L681.0 277.5 L682.0 277.6 L683.0 279.9 L684.0 280.8 L685.2 282.1 L686.3 284.9 L687.5 286.2 L689.0 283.2 L692.0 286.5 L696.0 290.7 L700.0 294.8 L704.0 299.5 L705.0 286.5 L707.0 291.0 L710.5 293.5 L711.2 277.0 L714.0 279.2 L718.0 282.3 L722.0 284.8 L726.0 287.5 L731.0 290.8 L734.0 291.8 L736.0 295.0 L736.8 283.0 L739.0 286.0 L741.0 289.0 L742.8 291.0 L743.5 281.5 L746.0 282.0 L749.0 282.5 L750.5 283.0 L751.5 287.0 L755.0 291.0 L759.0 296.0 L759.8 261.5 L761.0 259.8 L763.0 265.0 L767.0 269.0 L769.5 272.0 L770.5 266.5 L771.5 274.0 L775.0 279.0 L776.0 272.0 L778.0 275.0 L780.0 276.0 L781.0 268.5 L782.0 275.0 L784.0 280.0 L787.0 281.0 L788.0 284.0 L792.0 289.0 L793.0 290.0 L794.0 290.0 L795.0 291.7 L796.0 292.0 L797.0 293.0 L798.0 295.0 L799.5 292.0 L800.5 293.0 L801.5 293.0 L802.8 295.3 L804.0 298.5 L804.8 260.0 L805.9 259.1 L807.0 257.5 L808.0 264.0 L809.5 260.0 L811.0 266.0 L812.0 266.3 L813.0 268.0 L814.0 267.7 L815.0 269.0 L816.0 270.2 L817.0 270.1 L818.0 271.8 L819.0 271.9 L820.0 273.0 L821.0 274.3 L822.0 274.7 L823.0 276.3 L824.0 276.7 L825.0 278.0 L826.0 279.4 L827.0 279.5 L828.0 281.4 L829.0 281.6 L830.0 283.0 L831.2 284.6 L832.3 285.0 L833.5 286.5 L834.2 258.0 L835.6 259.4 L837.0 260.0 L838.0 260.3 L839.0 261.9 L840.0 262.0 L841.0 263.0 L842.0 264.3 L843.0 264.0 L844.0 265.6 L845.0 266.0 L846.1 266.6 L847.2 268.4 L848.4 268.6 L849.5 270.0 L850.2 250.0 L851.6 252.3 L853.0 254.0 L854.0 254.4 L855.0 255.6 L856.0 255.4 L857.0 256.5 L858.0 257.5 L859.0 257.5 L860.0 258.9 L861.0 259.0 L862.0 260.0 L863.0 248.5 L864.0 250.0 L865.0 250.5 L866.0 252.0 L867.0 253.5 L868.0 254.3 L869.0 256.0 L870.0 257.0 L871.0 256.7 L872.0 257.4 L873.0 257.0 L874.0 258.4 L875.0 260.6 L876.0 262.0 L877.0 262.6 L878.0 264.4 L879.0 264.5 L880.0 266.3 L881.0 267.0 L882.0 267.6 L883.0 269.4 L884.0 269.8 L885.0 271.5 L886.0 272.0 L887.0 272.9 L888.0 274.8 L889.0 275.4 L890.0 277.0 L891.0 278.5 L892.0 279.1 L893.0 281.1 L894.0 282.0 L895.3 283.3 L896.0 284.5 L897.0 285.5 L898.0 287.0 L899.0 288.6 L900.0 289.2 L901.0 291.0 L902.0 292.5 L903.0 292.8 L904.0 294.8 L905.0 295.0 L906.0 297.1 L907.0 297.5 L908.0 299.0 L909.0 300.5 L910.0 300.7 L911.0 302.8 L912.0 303.1 L913.0 304.9 L914.0 305.3 L915.0 307.4 L916.0 308.0 L917.0 308.8 L918.0 310.6 L919.0 311.3 L920.0 313.0 L921.0 313.6 L922.0 315.4 L923.0 316.1 L924.0 317.5 L924.6 318.5 L924.6 255.8 L926.2 258.6 L927.4 260.7 L928.5 259.6 L929.7 261.7 L930.9 263.4 L932.0 262.6 L933.2 264.0 L934.6 267.3 L936.0 268.5 L937.2 269.0 L938.5 271.5 L939.8 273.7 L941.0 274.5 L942.2 274.6 L943.5 277.0 L944.8 279.2 L946.0 279.3 L947.1 280.5 L948.3 283.0 L949.5 286.0 L950.6 286.5 L951.8 287.4 L952.9 290.3 L954.1 289.9 L955.2 292.5 L956.3 294.6 L957.3 293.8 L958.3 296.9 L959.3 297.0 L960.5 297.3 L961.6 300.1 L962.8 299.8 L964.0 301.6 L965.2 303.6 L966.5 303.3 L967.7 305.8 L968.9 308.1 L970.0 307.4 L971.2 310.7 L972.3 310.1 L973.5 312.2 L974.7 314.7 L975.8 314.9 L977.0 317.4 L978.8 319.5 L979.9 307.5 L981.3 309.8 L982.8 309.8 L984.3 310.7 L985.8 312.8 L986.2 314.5 L986.6 284.5 L987.2 300.0 L988.9 318.2 L990.4 286.5 L992.2 298.0 L993.4 299.9 L994.5 299.3 L995.7 301.0 L997.5 303.5 L999.2 301.0 L1000.3 306.0 L1001.5 309.5 L1001.9 309.5 L1002.3 275.4 L1004.0 275.5 L1005.0 278.6 L1006.0 278.7 L1007.0 281.5 L1008.0 284.0 L1009.0 284.2 L1010.0 287.7 L1011.0 288.5 L1012.1 289.2 L1013.2 293.0 L1014.3 294.0 L1015.5 294.5 L1016.6 298.0 L1017.8 299.0 L1019.0 300.8 L1020.2 304.0 L1021.7 308.5 L1022.2 261.0 L1023.4 260.1 L1024.5 258.0 L1025.5 264.9 L1026.5 273.0 L1027.5 270.1 L1028.5 265.0 L1030.0 271.0 L1031.0 272.3 L1032.0 276.3 L1033.0 278.0 L1034.0 279.3 L1035.0 282.8 L1036.0 284.0 L1037.0 285.9 L1038.0 290.0 M303.2 324.0 L304.1 327.9 L305.0 330.0 L306.5 334.0 L308.0 331.0 L309.0 333.6 L310.0 338.0 L311.0 339.9 L312.0 340.0 L313.5 336.0 L314.5 337.6 L315.5 340.0 L316.5 341.8 L317.5 342.0 L318.5 338.6 L319.5 337.0 L321.0 344.0 L322.2 329.0 L323.1 329.8 L324.1 329.1 L325.0 330.0 L326.0 333.1 L327.0 335.0 L328.0 336.3 L329.0 339.7 L330.0 341.0 L331.5 342.0 L332.5 344.8 L333.5 349.0 L334.8 353.9 L336.0 357.0 L337.5 360.0 L339.0 357.0 L340.2 355.6 L341.5 355.0 L342.2 333.0 L343.1 336.0 L344.0 338.0 L345.2 339.0 L346.5 341.0 L347.8 325.0 L348.9 327.5 L350.0 329.0 L351.0 329.0 L352.0 330.0 L352.9 328.2 L353.8 324.5 L354.9 325.9 L356.0 329.0 L357.0 329.7 L358.0 328.8 L359.0 330.3 L360.0 330.0 L361.0 329.1 L362.0 330.0 L363.0 329.0 L363.9 324.7 L364.8 322.0 L366.0 331.0 L367.2 333.7 L368.3 334.4 L369.5 337.0 L370.8 320.0 L371.9 322.5 L373.0 324.0 L374.0 324.4 L375.0 326.5 L376.0 327.0 L377.0 328.5 L378.0 332.3 L379.0 333.1 L380.0 336.0 L381.2 319.0 L382.4 322.0 L383.5 324.0 L384.8 324.0 L386.0 325.0 L387.2 319.0 L388.1 321.6 L389.1 322.2 L390.0 325.0 L391.2 325.4 L392.5 324.0 L393.5 325.9 L394.5 329.0 L395.8 330.4 L397.0 330.0 L398.0 330.9 L399.0 334.0 L400.0 335.0 L401.2 335.4 L402.5 337.0 L403.8 330.0 L404.9 335.2 L406.0 339.0 L407.0 339.4 L408.0 342.2 L409.0 341.9 L410.0 344.0 L411.0 347.0 L412.0 348.1 L413.0 351.0 L414.0 351.0 L415.0 353.7 L416.0 354.2 L417.0 357.5 L418.0 359.0 L419.0 359.7 L420.0 362.3 L421.0 363.0 L422.0 364.8 L423.0 369.3 L424.0 371.0 L424.9 372.9 L425.8 376.0" fill="none" stroke="#000" stroke-width="2.4" stroke-linejoin="round" stroke-linecap="butt"/>
<path d="M778.0 275.0 L780.0 276.0 L781.0 268.5 L782.0 275.0 L784.0 280.0 L787.0 281.0 L788.0 284.0 L792.0 289.0 L793.0 290.0 L794.0 290.0 L795.0 291.7 L796.0 292.0 L797.0 293.0 L798.0 295.0 L799.5 292.0 L800.5 293.0 L801.5 293.0 L802.8 295.3 L804.0 298.5 L804.8 260.0 L805.9 259.1 L807.0 257.5 L808.0 264.0 L809.5 260.0 L811.0 266.0 L812.0 266.3 L813.0 268.0 L814.0 267.7 L815.0 269.0 L816.0 270.2 L817.0 270.1 L818.0 271.8 L819.0 271.9 L820.0 273.0 L821.0 274.3 L822.0 274.7 L823.0 276.3 L824.0 276.7 L825.0 278.0 L826.0 279.4 L827.0 279.5 L828.0 281.4 L829.0 281.6 L830.0 283.0 L831.2 284.6 L832.3 285.0 L833.5 286.5 L834.2 258.0 L835.6 259.4 L837.0 260.0 L838.0 260.3 L839.0 261.9 L840.0 262.0 L841.0 263.0 L842.0 264.3 L843.0 264.0 L844.0 265.6 L845.0 266.0 L846.1 266.6 L847.2 268.4 L848.4 268.6 L849.5 270.0 L850.2 250.0 L851.6 252.3 L853.0 254.0 L854.0 254.4 L855.0 255.6 L856.0 255.4 L857.0 256.5 L858.0 257.5 L859.0 257.5 L860.0 258.9 L861.0 259.0 L862.0 260.0 L863.0 248.5 L864.0 250.0 L865.0 250.5 L866.0 252.0 L867.0 253.5 L868.0 254.3 L869.0 256.0 L870.0 257.0 L871.0 256.7 L872.0 257.4 L873.0 257.0 L874.0 258.4 L875.0 260.6 L876.0 262.0 L877.0 262.6 L878.0 264.4 L879.0 264.5 L880.0 266.3 L881.0 267.0 L882.0 267.6 L883.0 269.4 L884.0 269.8 L885.0 271.5 L886.0 272.0 L887.0 272.9 L888.0 274.8 L889.0 275.4 L890.0 277.0 L891.0 278.5 L892.0 279.1 L893.0 281.1 L894.0 282.0 L895.3 283.3 L896.0 284.5 L897.0 285.5 L898.0 287.0 L899.0 288.6 L900.0 289.2 L901.0 291.0 L902.0 292.5 L903.0 292.8 L904.0 294.8 L905.0 295.0 L906.0 297.1 L907.0 297.5 L908.0 299.0 L909.0 300.5 L910.0 300.7 L911.0 302.8 L912.0 303.1 L913.0 304.9 L914.0 305.3 L915.0 307.4 L916.0 308.0 L917.0 308.8 L918.0 310.6 L919.0 311.3 L920.0 313.0 L921.0 313.6 L922.0 315.4 L923.0 316.1 L924.0 317.5 L924.6 318.5 L924.6 255.8 L926.2 258.6 L927.4 260.7 L928.5 259.6 L929.7 261.7 L930.9 263.4 L932.0 262.6 L933.2 264.0 L934.6 267.3 L936.0 268.5 L937.2 269.0 L938.5 271.5 L939.8 273.7 L941.0 274.5 L942.2 274.6 L943.5 277.0 L944.8 279.2 L946.0 279.3 L947.1 280.5 L948.3 283.0 L949.5 286.0 L950.6 286.5 L951.8 287.4 L952.9 290.3 L954.1 289.9 L955.2 292.5 L956.3 294.6 L957.3 293.8 L958.3 296.9 L959.3 297.0 L960.5 297.3 L961.6 300.1 L962.8 299.8 L964.0 301.6 L965.2 303.6 L966.5 303.3 L967.7 305.8 L968.9 308.1 L970.0 307.4 L971.2 310.7 L972.3 310.1 L973.5 312.2 L974.7 314.7 L975.8 314.9 L977.0 317.4 L978.8 319.5 L979.9 307.5 L981.3 309.8 L982.8 309.8 L984.3 310.7 L985.8 312.8 L986.2 314.5 L986.6 284.5 L987.2 300.0 L988.9 318.2 L990.4 286.5 L992.2 298.0 L993.4 299.9 L994.5 299.3 L995.7 301.0 L997.5 303.5 L999.2 301.0 L1000.3 306.0 L1001.5 309.5 L1001.9 309.5 L1002.3 275.4 L1004.0 275.5 L1005.0 278.6 L1006.0 278.7 L1007.0 281.5 L1008.0 284.0 L1009.0 284.2 L1010.0 287.7 L1011.0 288.5 L1012.1 289.2 L1013.2 293.0 L1014.3 294.0 L1015.5 294.5 L1016.6 298.0 L1017.8 299.0 L1019.0 300.8 L1020.2 304.0 L1021.7 308.5 L1022.2 261.0 L1023.4 260.1 L1024.5 258.0 L1025.5 264.9 L1026.5 273.0 L1027.5 270.1 L1028.5 265.0 L1030.0 271.0 L1031.0 272.3 L1032.0 276.3 L1033.0 278.0 L1034.0 279.3 L1035.0 282.8 L1036.0 284.0 L1037.0 285.9 L1038.0 290.0" fill="none" stroke="#000" stroke-width="2.8" stroke-linejoin="round"/>
<path d="M191.5 300.5 L195.6 289.5 L197.0 304.0 L199.1 295.0 L200.5 307.0 L202.6 298.3 L203.9 304.5 L205.5 297.4 L206.6 314.0 L208.5 310.3 L209.4 325.0 L210.6 322.5 L211.3 325.5 L212.0 321.0 L212.9 326.0 L214.3 322.2 L217.2 320.0 L219.5 316.5 L221.6 310.5 L223.0 320.4 L225.0 312.0 L226.2 329.0 L227.3 321.5 L228.6 328.6 L230.3 319.0 L231.8 328.0 L233.5 324.0 L235.6 316.0 L237.9 313.3 L239.4 339.7 L240.2 340.6 L241.3 332.9 L242.5 338.2 L243.4 330.7 L244.5 335.8 L245.5 327.2 L246.7 335.0 L247.6 327.9 L248.9 335.1 L250.0 329.9 L251.0 337.4 L252.0 334.2 L253.2 340.6 L254.2 334.0 L255.1 340.4 L256.3 334.5 L257.3 339.6 L258.3 335.1 L259.4 339.1 L260.3 335.7 L261.3 338.7 L262.4 336.5 L263.3 338.7 L264.5 336.8 L265.6 338.5 L266.5 336.9 L267.5 338.6 L268.7 337.1 L269.7 339.1 L270.9 337.9 L271.9 339.7 L272.9 338.7 L273.9 340.2 L275.0 340.0 L276.1 340.8 L277.0 341.2 L278.3 342.2 L279.6 342.9 L280.9 343.0 L281.9 339.9 L283.1 341.5 L284.3 338.7 L285.3 341.0 L286.2 340.3 L287.2 342.0 L288.1 342.5 L289.3 341.5 L290.6 339.5 L291.7 339.8 L292.9 340.3 L293.9 342.8 L295.0 343.7 L296.3 345.3 L297.3 345.0 L298.6 348.1 L299.8 350.0 L300.8 351.8 L302.0 353.7 L302.8 353.0 L303.5 332.0 L304.8 333.3 L306.0 337.0 L307.0 338.8 L308.0 337.6 L309.0 339.0 L310.0 341.4 L311.0 342.0 L312.2 340.9 L313.5 341.0 L314.5 344.1 L315.5 345.0 L316.5 343.5 L317.5 344.0 L318.5 347.2 L319.5 348.0 L320.6 349.9 L321.8 354.0 L322.8 331.0 L323.9 333.5 L325.0 334.0 L326.0 335.3 L327.0 339.6 L328.0 341.0 L329.0 342.4 L330.0 346.0 L331.0 347.0 L332.0 349.1 L333.0 353.0 L334.0 355.0 L335.2 356.9 L336.5 361.0 L338.0 364.0 L339.0 362.6 L340.0 359.4 L341.0 358.0 L342.2 340.0 L343.1 341.6 L344.1 340.8 L345.0 343.0 L346.2 344.4 L347.5 344.5 L348.5 329.0 L349.8 330.4 L351.0 333.0 L352.2 334.6 L353.5 334.0 L354.5 331.9 L355.5 331.0 L356.5 333.1 L357.5 332.0 L358.5 334.0 L359.8 337.1 L361.0 338.0 L362.0 332.0 L363.0 331.8 L364.0 334.0 L365.5 332.0 L366.5 335.0 L367.5 336.0 L368.8 335.9 L370.0 338.0 L371.2 320.0 L372.4 324.1 L373.5 327.0 L374.7 327.6 L375.8 331.2 L377.0 332.0 L378.2 332.6 L379.3 336.0 L380.5 337.0 L381.8 325.0 L382.9 325.9 L384.0 329.0 L385.2 329.2 L386.5 327.0 L387.8 322.0 L389.1 324.4 L390.5 328.0 L391.4 329.6 L392.3 328.7 L393.2 331.5 L394.1 330.5 L395.0 332.0 L396.0 331.7 L397.0 330.0 L398.0 331.3 L399.0 335.0 L400.0 336.0 L401.0 336.3 L402.0 339.5 L403.0 340.0 L404.0 339.5 L405.0 341.5 L406.0 341.0 L407.0 341.2 L408.0 343.8 L409.0 344.0 L410.5 345.0 L411.0 334.0 L411.8 345.0 L412.9 347.9 L413.9 352.9 L414.9 354.3 L416.0 359.0 L417.0 361.3 L418.0 360.9 L419.0 364.2 L420.0 365.0 L421.0 366.0 L422.0 370.1 L423.0 370.0 L424.0 373.0 L425.0 375.9 L426.0 377.0 L426.0 282.5 L427.0 285.4 L428.0 289.0 L429.0 291.4 L430.0 293.0 L431.2 292.7 L432.5 293.0 L434.0 299.0 L435.0 301.1 L436.0 301.9 L437.0 304.0 L438.0 306.4 L439.0 307.7 L440.0 310.0 L441.0 311.9 L442.0 313.0 L443.0 312.6 L444.0 313.0 L445.0 318.0 L445.7 319.0 L446.0 264.3 L446.3 319.0 L447.5 320.0 L449.0 317.0 L450.0 319.8 L451.0 322.0 L452.0 323.1 L453.0 325.0 L454.0 327.0 L455.0 328.0 L456.0 326.7 L457.0 326.0 L458.0 326.8 L459.0 327.0 L460.0 322.0 L461.5 330.0 L463.0 335.0 L464.5 337.0 L466.0 330.0 L467.0 332.7 L468.0 336.0 L469.5 330.0 L471.0 328.0 L472.5 336.0 L474.0 339.0 L475.2 333.4 L476.5 327.0 L478.0 334.0 L479.0 334.1 L480.0 335.0 L481.0 330.0 L482.0 324.0 L483.0 325.1 L484.0 327.0 L485.2 327.8 L486.5 328.0 L487.8 310.0 L488.9 312.2 L490.0 315.0 L491.0 315.3 L492.0 314.7 L493.0 315.0 L494.0 317.4 L495.0 319.0 L496.2 319.5 L497.5 321.0 L499.0 320.0 L500.5 325.0 L501.5 326.8 L502.5 327.4 L503.5 329.0 L504.5 330.5 L505.5 330.7 L506.5 332.0 L508.0 330.0 L509.0 330.3 L510.0 330.0 L510.5 310.0 L511.5 312.1 L512.5 315.0 L514.0 310.0 L515.0 310.7 L516.0 311.0 L517.0 312.5 L518.0 314.9 L519.0 316.0 L520.0 318.0 L520.9 320.0 L521.9 321.0 L522.8 323.0 L523.5 308.0 L526.0 312.0 L530.0 319.0 L530.5 310.0 L531.5 320.0 L532.5 310.0 L533.2 321.0 L534.0 311.0 L536.0 315.0 L540.0 318.0 L543.0 322.0 L545.5 326.0 L546.2 301.0 L548.0 302.0 L551.0 307.0 L551.8 309.0 L552.5 300.0 L555.0 304.0 L558.0 308.0 L561.5 312.5 L562.2 293.5 L564.5 296.0 L565.2 285.0 L568.0 288.0 L572.0 292.0 L576.0 296.0 L580.0 298.0 L585.0 300.0 L589.0 305.0 L594.0 309.0 L597.0 312.5 L598.5 310.0 L601.0 313.0 L603.8 315.0 L604.5 301.0 L606.5 303.5 L607.5 296.5 L609.5 298.0 L611.0 296.5 L613.5 302.0 L616.5 304.5 L617.2 277.5 L619.5 277.0 L621.0 280.0 L624.0 283.0 L627.0 286.0 L629.0 289.0 L630.0 284.0 L631.5 292.5 L632.5 293.0 L633.5 281.0 L636.0 286.0 L640.0 291.0 L643.0 295.0 L645.5 298.0 L646.5 288.0 L649.0 292.0 L652.0 296.0 L653.0 295.2 L653.2 148.0 L653.8 148.0 L654.1 294.3 L657.0 297.0 L661.0 302.0 L665.0 307.0 L668.5 311.5 L669.2 264.0 L672.0 267.0 L676.0 272.0 L680.0 277.0 L684.0 282.0 L687.5 287.0 L689.0 284.0 L692.0 287.0 L696.0 291.0 L700.0 295.0 L704.0 299.5 L705.0 287.0 L707.0 291.0 L710.5 293.5 L711.2 277.5 L714.0 279.5 L718.0 282.5 L722.0 285.0 L726.0 287.5 L731.0 291.0 L734.0 292.0 L736.0 295.0 L736.8 283.0 L739.0 286.0 L741.0 289.0 L742.8 291.0 L743.5 281.5 L746.0 282.0 L749.0 282.5 L750.5 283.0 L751.5 287.0 L755.0 291.0 L759.0 296.0 L759.8 261.5 L761.2 261.5 L763.0 265.0 L767.0 269.0 L769.5 272.0 L770.5 266.5 L771.5 274.0 L775.0 279.0 L776.0 272.0 L778.0 275.0 L780.0 276.0 L781.0 268.5 L782.0 275.0 L784.0 280.0 L787.0 281.0 L788.0 284.0 L792.0 289.0 L796.0 292.0 L798.0 295.0 L799.5 292.0 L801.5 293.0 L804.0 298.5 L804.8 260.0 L807.0 257.5 L808.0 264.0 L809.5 260.0 L811.0 266.0 L815.0 269.0 L820.0 273.0 L825.0 278.0 L830.0 283.0 L833.5 286.5 L834.2 258.0 L837.0 260.0 L841.0 263.0 L845.0 266.0 L849.5 270.0 L850.2 250.0 L853.0 254.0 L857.0 256.5 L862.0 260.0 L863.0 248.5 L866.0 252.0 L870.0 257.0 L873.0 257.0 L876.0 262.0 L881.0 267.0 L886.0 272.0 L890.0 277.0 L894.0 282.0 L895.3 283.3 L895.3 207.5 L895.9 207.5 L896.0 284.5 L898.0 287.0 L901.0 291.0 L908.0 299.0 L916.0 308.0 L924.0 317.5 L924.6 318.5 L924.6 255.8 L926.2 258.6 L927.4 258.6 L928.5 261.6 L929.7 261.7 L930.9 261.6 L932.0 263.8 L933.2 264.0 L934.6 265.5 L936.0 268.5 L937.2 270.6 L938.5 271.5 L939.8 272.2 L941.0 274.5 L942.2 276.6 L943.5 277.0 L944.8 277.5 L946.0 279.3 L947.1 281.8 L948.3 283.0 L949.5 283.8 L950.6 286.5 L951.8 288.5 L952.9 288.5 L954.1 292.1 L955.2 292.5 L956.3 292.5 L957.3 295.5 L958.3 295.0 L959.3 297.0 L960.5 299.0 L961.6 298.4 L962.8 301.6 L964.0 301.6 L965.2 302.1 L966.5 305.0 L967.7 305.8 L968.9 306.0 L970.0 309.1 L971.2 308.8 L972.3 311.9 L973.5 312.2 L974.7 313.5 L975.8 316.6 L977.0 317.4 L978.8 319.5 L979.9 307.5 L981.3 307.7 L982.8 309.8 L984.3 312.1 L985.8 312.8 L986.2 314.5 L986.6 287.7 L987.2 300.0 L988.9 318.7 L990.4 290.6 L992.2 298.8 L993.4 298.9 L994.5 301.5 L995.7 301.7 L996.9 302.1 L998.0 304.6 L999.2 304.8 L1000.4 306.9 L1001.5 310.0 L1001.9 310.0 L1002.3 277.2 L1004.0 276.5 L1005.0 279.2 L1006.0 279.5 L1007.0 282.3 L1008.0 284.8 L1009.0 285.0 L1010.0 288.6 L1011.0 289.3 L1012.1 290.1 L1013.2 293.5 L1014.3 294.8 L1015.5 295.5 L1016.6 299.0 L1017.8 299.8 L1019.0 301.7 L1020.2 304.6 L1021.7 309.0 L1022.2 262.5 L1023.4 263.0 L1024.5 262.0 L1025.5 266.9 L1026.5 273.0 L1027.5 270.0 L1028.5 266.0 L1030.0 271.0 L1031.0 272.5 L1032.0 276.7 L1033.0 278.0 L1034.0 279.3 L1035.0 283.0 L1036.0 284.0 L1037.0 286.1 L1038.0 290.0" fill="none" stroke="#ff0000" stroke-opacity="0.6" stroke-width="2.25" stroke-linejoin="round" stroke-linecap="butt"/>
<rect x="150.5" y="72.5" width="930" height="462" fill="none" stroke="#000" stroke-width="1.1"/>
<g stroke="#000" stroke-width="1.1"><line x1="192.50" y1="534.5" x2="192.50" y2="539.4"/><line x1="361.50" y1="534.5" x2="361.50" y2="539.4"/><line x1="531.50" y1="534.5" x2="531.50" y2="539.4"/><line x1="700.50" y1="534.5" x2="700.50" y2="539.4"/><line x1="869.50" y1="534.5" x2="869.50" y2="539.4"/><line x1="1038.50" y1="534.5" x2="1038.50" y2="539.4"/><line x1="150.5" y1="488.50" x2="145.6" y2="488.50"/><line x1="150.5" y1="395.50" x2="145.6" y2="395.50"/><line x1="150.5" y1="303.50" x2="145.6" y2="303.50"/><line x1="150.5" y1="211.50" x2="145.6" y2="211.50"/><line x1="150.5" y1="118.50" x2="145.6" y2="118.50"/></g>
<g font-size="13.89px" fill="#000"><text x="182.96" y="555.2" letter-spacing="-0.8">30</text><text x="352.96" y="555.2" letter-spacing="-0.8">40</text><text x="521.96" y="555.2" letter-spacing="-0.8">50</text><text x="690.96" y="555.2" letter-spacing="0.2">60</text><text x="859.96" y="555.2" letter-spacing="-0.8">70</text><text x="1028.96" y="555.2" letter-spacing="-0.1">80</text><text x="139.8" y="493.3" text-anchor="end" letter-spacing="-0.4">0.6</text><text x="139.8" y="401.3" text-anchor="end" letter-spacing="-0.4">0.8</text><text x="139.8" y="308.3" text-anchor="end" letter-spacing="-0.4">1.0</text><text x="139.8" y="216.3" text-anchor="end" letter-spacing="-0.4">1.2</text><text x="139.8" y="124.3" text-anchor="end" letter-spacing="-0.4">1.4</text>
<text x="615" y="574" text-anchor="middle">Frequency (MHz)</text>
<text transform="translate(108.5,304.6) rotate(-90)" text-anchor="middle">Normalized Power</text>
</g>
<text x="615.2" y="64" text-anchor="middle" font-size="16.67px" fill="#000" letter-spacing="0.012">2024-12-22 - Cor 37 - LWA263 - Pol YY - Normalized Spectrum (Median power=16.2 CPU)</text>
<g>
<rect x="901.6" y="79.5" width="171.9" height="67" rx="2.8" ry="2.8" fill="#fff" fill-opacity="0.8" stroke="#ccc" stroke-opacity="0.8" stroke-width="1.39"/>
<line x1="904.75" y1="90.9" x2="935.25" y2="90.9" stroke="#000" stroke-width="2.08"/>
<line x1="904.75" y1="111.7" x2="935.25" y2="111.7" stroke="#ff0000" stroke-opacity="0.6" stroke-width="2.08"/>
<rect x="906.3" y="128.3" width="28.1" height="9.2" fill="#808080" fill-opacity="0.4" stroke="#808080" stroke-opacity="0.4" stroke-width="1"/>
<g font-size="13.89px" fill="#000">
<text x="944.9" y="95.3">Median Spectrum</text>
<text x="944.9" y="116.1">Reference spec</text>
<text x="944.9" y="136.9">Median Abs. Dev.</text>
</g></g>
</svg>
</body></html>
